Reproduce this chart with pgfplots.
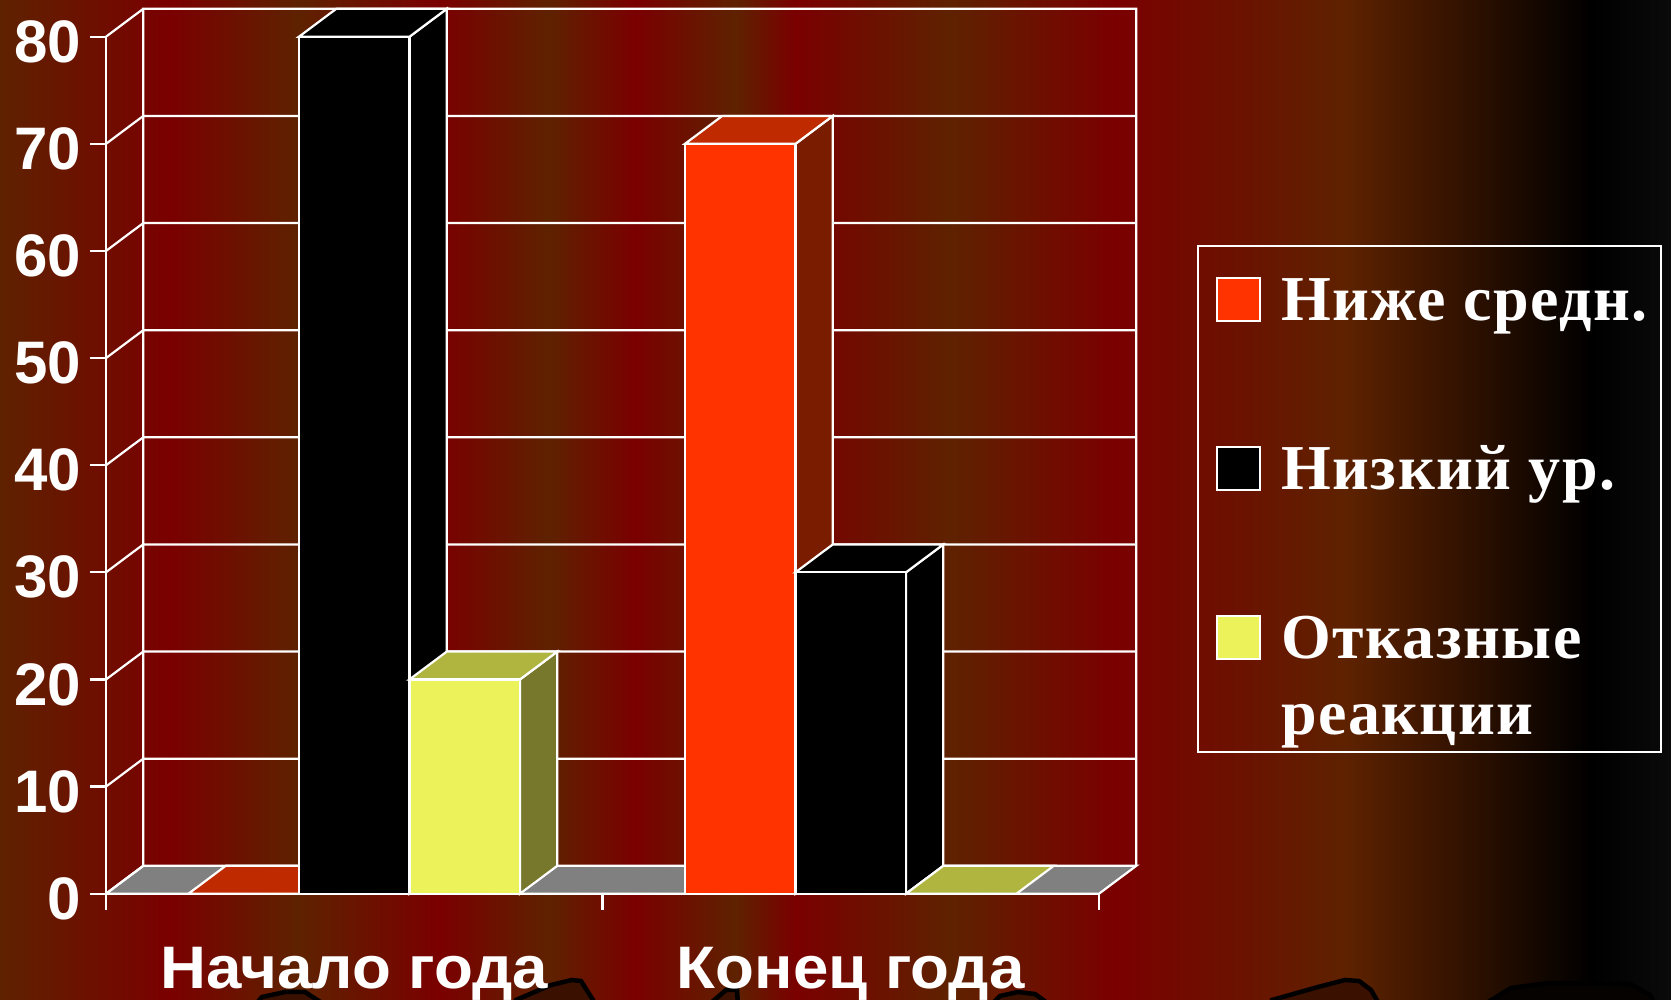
\documentclass[border=0pt]{standalone}
\usepackage{pgfplots}
\usepackage{fontspec}
\pgfplotsset{compat=1.18}
\setmainfont{Liberation Sans}
\newfontfamily\legfont[LetterSpace=2.2]{Liberation Serif}
\newfontfamily\xfont[FakeStretch=1.06]{Liberation Sans}
\definecolor{bB}{HTML}{5E2200}
\definecolor{bR}{HTML}{7A0000}
\definecolor{barO}{HTML}{FF3300}
\definecolor{barOt}{HTML}{BF2A00}
\definecolor{barOs}{HTML}{7A1C00}
\definecolor{barY}{HTML}{ECF25A}
\definecolor{barYt}{HTML}{B0B540}
\definecolor{barYs}{HTML}{78782D}
\definecolor{floorG}{HTML}{808080}
\definecolor{blob}{HTML}{3A1000}
\pgfdeclarehorizontalshading{bgstripes}{100bp}{
 color(0bp)=(bB);
 color(25bp)=(bB);
 color(30.085bp)=(bR);
 color(33.915bp)=(bB);
 color(38.15bp)=(bR);
 color(41.425bp)=(bB);
 color(44bp)=(bR);
 color(47bp)=(bB);
 color(48.8bp)=(bR);
 color(53.425bp)=(bB);
 color(58.35bp)=(bR);
 color(65.25bp)=(bB);
 color(72.6bp)=(black);
 color(75bp)=(black!96!white);
 color(100bp)=(black!96!white)}
\begin{document}
\begin{tikzpicture}
\path[use as bounding box] (0pt,0pt) rectangle (1671pt,1000pt);
\shade[shading=bgstripes,shading angle=0] (0pt,0pt) rectangle (1671pt,1000pt);
\begin{scope}[x=1pt,y=1pt]
\clip (0,0) rectangle (1671,1000);
\filldraw[fill=blob,draw=black,line width=4.5pt] (255,-5) -- (262,3) -- (285,8) -- (305,8) -- (325,-5) -- cycle;
\filldraw[fill=blob,draw=black,line width=4.5pt] (516,0) -- (551,15) -- (572,20) -- (581,19) -- (593,0) -- (593,-5) -- (516,-5) -- cycle;
\filldraw[fill=blob,draw=black,line width=4.5pt] (712,-2) -- (726,10) -- (737,10) -- (738,-5) -- cycle;
\filldraw[fill=blob,draw=black,line width=4.5pt] (991,-5) -- (1000,4) -- (1018,8) -- (1035,6) -- (1050,-5) -- cycle;
\filldraw[fill=blob,draw=black,line width=4.5pt] (1272,0) -- (1318,13) -- (1345,20) -- (1359,19) -- (1371,10) -- (1378,-2) -- (1378,-5) -- (1272,-5) -- cycle;
\filldraw[fill=black!90!blob,draw=black,line width=4.5pt] (1488,-2) -- (1511,12) -- (1548,17) -- (1630,16) -- (1650,5) -- (1655,-5) -- (1488,-5) -- cycle;
\end{scope}
\begin{axis}[
 at={(106pt,106.3pt)}, anchor=origin,
 scale only axis, width=993pt, height=857pt,
 xmin=0, xmax=2, ymin=0, ymax=80, clip=false,
 axis lines=left,
 axis line style={-,white,line width=2.2pt},
 tick style={white,line width=2.2pt},
 major tick length=16pt,
 tick align=outside,
 ytick={0,10,...,80},
 xtick={0,1,2},
 xticklabels={Начало года,Конец года},
 x tick label as interval,
 /pgf/number format/assume math mode=true,
 yticklabel style={font=\fontsize{60}{60}\selectfont\bfseries,text=white,anchor=east,xshift=-9pt,yshift=-5pt,inner sep=0pt},
 xticklabel style={font=\fontsize{60}{60}\selectfont\xfont\bfseries,text=white,anchor=base,inner sep=0pt,yshift=-79pt},
 legend style={at={(1.0984,0.757)},anchor=north west,draw=white,line width=2pt,fill=none,text=white,
   font=\fontsize{64}{72}\selectfont\legfont\bfseries,
   nodes={inner sep=0pt,anchor=base west,text depth={},text height={}},
   /tikz/column sep=21pt,/tikz/row sep=95pt,
   inner xsep=18pt,inner ysep=15pt},
 legend cell align=left,
 unbounded coords=jump,
]
\addlegendimage{legend image code/.code={\filldraw[draw=white,line width=1.8pt,fill=barO] (0pt,0pt) rectangle (43pt,43pt);}}
\addlegendentry{\rule[-14pt]{0pt}{74pt}Ниже средн.\hspace{-4.5pt}\null}
\addlegendimage{legend image code/.code={\filldraw[draw=white,line width=1.8pt,fill=black] (0pt,0pt) rectangle (43pt,43pt);}}
\addlegendentry{\rule[-14pt]{0pt}{74pt}Низкий ур.}
\addlegendimage{legend image code/.code={\filldraw[draw=white,line width=1.8pt,fill=barY] (0pt,0pt) rectangle (43pt,43pt);}}
\addlegendentry{\rule[-78pt]{0pt}{138pt}\smash{\begin{tabular}[t]{@{}l@{}}Отказные\\[4pt]реакции\end{tabular}}}
% floor
\addplot[forget plot,fill=floorG,draw=white,line width=2.2pt] coordinates {(0,0)(2,0)(2.075,2.6)(0.075,2.6)} -- cycle;
% back wall and side wall
\addplot[forget plot,white,line width=2.2pt] coordinates {
 (0.075,2.6)(0.075,82.6)(2.075,82.6)(2.075,2.6)(nan,nan)
 (0.075,12.6)(2.075,12.6)(nan,nan)(0.075,22.6)(2.075,22.6)(nan,nan)
 (0.075,32.6)(2.075,32.6)(nan,nan)(0.075,42.6)(2.075,42.6)(nan,nan)
 (0.075,52.6)(2.075,52.6)(nan,nan)(0.075,62.6)(2.075,62.6)(nan,nan)
 (0.075,72.6)(2.075,72.6)(nan,nan)
 (0,0)(0.075,2.6)(nan,nan)(0,10)(0.075,12.6)(nan,nan)(0,20)(0.075,22.6)(nan,nan)
 (0,30)(0.075,32.6)(nan,nan)(0,40)(0.075,42.6)(nan,nan)(0,50)(0.075,52.6)(nan,nan)
 (0,60)(0.075,62.6)(nan,nan)(0,70)(0.075,72.6)(nan,nan)(0,80)(0.075,82.6)
};
% series 1: Ниже средн.
\addplot[forget plot,fill=barOt,draw=white,line width=2.2pt] coordinates {(0.1661,0)(0.3887,0)(0.4637,2.6)(0.2411,2.6)} -- cycle;
\addplot[forget plot,fill=barOs,draw=white,line width=2.2pt] coordinates {(1.3887,0)(1.4637,2.6)(1.4637,72.6)(1.3887,70)} -- cycle;
\addplot[forget plot,fill=barOt,draw=white,line width=2.2pt] coordinates {(1.1661,70)(1.3887,70)(1.4637,72.6)(1.2411,72.6)} -- cycle;
\addplot[forget plot,ybar,bar width=110.5pt,bar shift=-110.5pt,fill=barO,draw=white,line width=2.2pt] coordinates {(0.5,0)(1.5,70)};
% series 2: Низкий ур.
\addplot[forget plot,fill=black,draw=white,line width=2.2pt] coordinates {(0.6113,0)(0.6863,2.6)(0.6863,82.6)(0.6113,80)} -- cycle;
\addplot[forget plot,fill=black,draw=white,line width=2.2pt] coordinates {(0.3887,80)(0.6113,80)(0.6863,82.6)(0.4637,82.6)} -- cycle;
\addplot[forget plot,fill=black,draw=white,line width=2.2pt] coordinates {(1.6113,0)(1.6863,2.6)(1.6863,32.6)(1.6113,30)} -- cycle;
\addplot[forget plot,fill=black,draw=white,line width=2.2pt] coordinates {(1.3887,30)(1.6113,30)(1.6863,32.6)(1.4637,32.6)} -- cycle;
\addplot[forget plot,ybar,bar width=110.5pt,bar shift=0pt,fill=black,draw=white,line width=2.2pt] coordinates {(0.5,80)(1.5,30)};
% series 3: Отказные реакции
\addplot[forget plot,fill=barYs,draw=white,line width=2.2pt] coordinates {(0.8339,0)(0.9089,2.6)(0.9089,22.6)(0.8339,20)} -- cycle;
\addplot[forget plot,fill=barYt,draw=white,line width=2.2pt] coordinates {(0.6113,20)(0.8339,20)(0.9089,22.6)(0.6863,22.6)} -- cycle;
\addplot[forget plot,fill=barYt,draw=white,line width=2.2pt] coordinates {(1.6113,0)(1.8339,0)(1.9089,2.6)(1.6863,2.6)} -- cycle;
\addplot[forget plot,ybar,bar width=110.5pt,bar shift=110.5pt,fill=barY,draw=white,line width=2.2pt] coordinates {(0.5,20)(1.5,0)};
\end{axis}
\end{tikzpicture}
\end{document}
